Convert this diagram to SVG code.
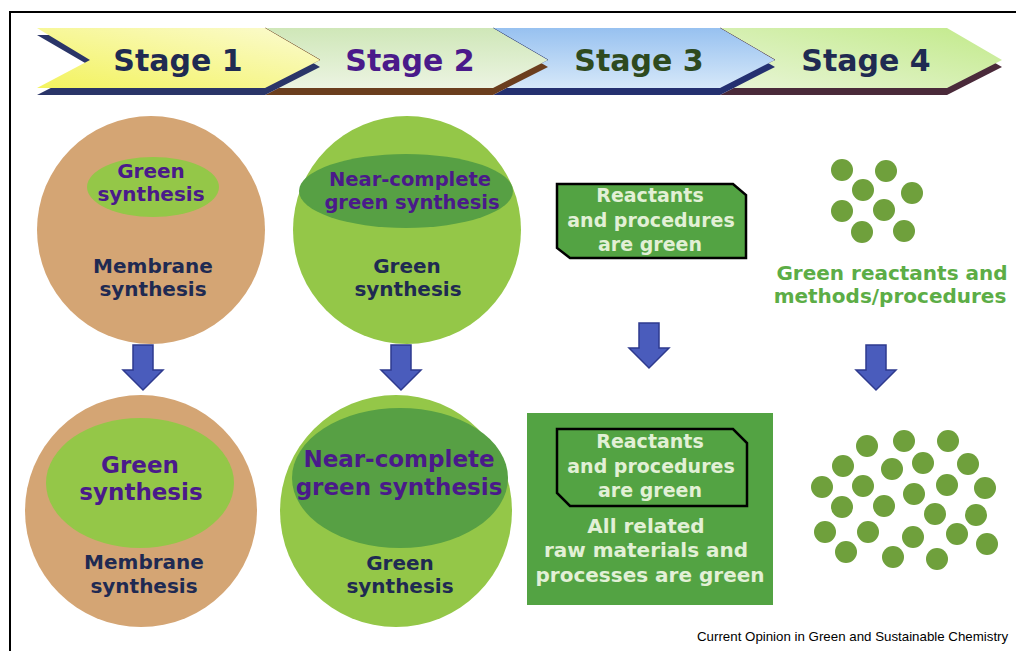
<svg xmlns="http://www.w3.org/2000/svg" width="1016" height="651" viewBox="0 0 1016 651">
<defs>
<linearGradient id="g1" x1="0" y1="1" x2="1" y2="0"><stop offset="0" stop-color="#f3f35e"/><stop offset="1" stop-color="#fbfbd2"/></linearGradient>
<linearGradient id="g2" x1="0" y1="0" x2="0" y2="1"><stop offset="0" stop-color="#cfe7b8"/><stop offset="1" stop-color="#ecf4e2"/></linearGradient>
<linearGradient id="g3" x1="0" y1="0" x2="0" y2="1"><stop offset="0" stop-color="#97c1f0"/><stop offset="1" stop-color="#d6e8f9"/></linearGradient>
<linearGradient id="g4" x1="1" y1="0" x2="0" y2="1"><stop offset="0" stop-color="#c2ea8a"/><stop offset="1" stop-color="#e8f5d6"/></linearGradient>
<polygon id="arrow" points="-10,0 10,0 10,25 20,25 0,45 -20,25 -10,25"/>
<circle id="dot" r="11"/>
</defs>
<style>
.frame{fill:none;stroke:#000;stroke-width:2}
.st{font-family:"DejaVu Sans",Verdana,sans-serif;font-weight:bold;font-size:30px;text-anchor:middle}
.t{font-family:"DejaVu Sans",Verdana,sans-serif;font-weight:bold;text-anchor:middle}
.purple{fill:#4a1a8a}
.navy{fill:#1f2a52}
.light{fill:#e2f0d6}
.tan{fill:#d4a574}
.lg{fill:#94c748}
.dg{fill:#57a044}
.arr{fill:#4a5cbc;stroke:#2e3a8e;stroke-width:1.5}
.dots{fill:#6fa03c}
.box{fill:#53a343;stroke:#000;stroke-width:2.5}
.cap{font-family:"Liberation Sans",Arial,sans-serif;font-size:13.3px;fill:#000}
</style>
<path class="frame" d="M10,651 V12 H1016"/>
<g id="stage4">
<polygon fill="#4a2a3a" points="720,35 947,35 1002,67 947,95 720,95 775,67"/>
<polygon fill="url(#g4)" points="720,28 947,28 1002,60 947,88 720,88 775,60"/>
<line x1="720" y1="28" x2="775" y2="60" stroke="#4a2a3a" stroke-width="1"/>
<text class="st navy" x="866" y="71">Stage 4</text>
</g>
<g id="stage3">
<polygon fill="#243070" points="493,35 720,35 775,67 720,95 493,95 548,67"/>
<polygon fill="url(#g3)" points="493,28 720,28 775,60 720,88 493,88 548,60"/>
<line x1="493" y1="28" x2="548" y2="60" stroke="#243070" stroke-width="1"/>
<text class="st" fill="#2e4a1e" x="639" y="71">Stage 3</text>
</g>
<g id="stage2">
<polygon fill="#6b3e1e" points="265,35 493,35 548,67 493,95 265,95 320,67"/>
<polygon fill="url(#g2)" points="265,28 493,28 548,60 493,88 265,88 320,60"/>
<line x1="265" y1="28" x2="320" y2="60" stroke="#6b3e1e" stroke-width="1"/>
<text class="st purple" x="410" y="71">Stage 2</text>
</g>
<g id="stage1">
<polygon fill="#2a3568" points="37,35 265,35 320,67 265,95 37,95 92,67"/>
<polygon fill="url(#g1)" points="37,28 265,28 320,60 265,88 37,88 90,60"/>
<text class="st navy" x="178" y="71">Stage 1</text>
</g>
<g id="s1-top">
<circle class="tan" cx="151" cy="230" r="114"/>
<ellipse class="lg" cx="153" cy="187" rx="66" ry="30"/>
<text class="t purple" font-size="20" x="151" y="178">Green</text>
<text class="t purple" font-size="20" x="151" y="201">synthesis</text>
<text class="t navy" font-size="20" x="153" y="273">Membrane</text>
<text class="t navy" font-size="20" x="153" y="296">synthesis</text>
</g>
<g id="s2-top">
<circle class="lg" cx="407" cy="230" r="114"/>
<ellipse class="dg" cx="406" cy="191" rx="107" ry="37"/>
<text class="t purple" font-size="19.5" x="410" y="186">Near-complete</text>
<text class="t purple" font-size="19.5" x="412" y="209">green synthesis</text>
<text class="t navy" font-size="20" x="407" y="273">Green</text>
<text class="t navy" font-size="20" x="408" y="296">synthesis</text>
</g>
<g id="s3-top">
<polygon class="box" points="557,184 733,184 746,195 746,258 570,258 557,248"/>
<text class="t light" font-size="19" x="650" y="202">Reactants</text>
<text class="t light" font-size="19" x="651" y="227">and procedures</text>
<text class="t light" font-size="19" x="650" y="251">are green</text>
</g>
<g id="s4-top">
<g class="dots">
<use href="#dot" x="842" y="170"/><use href="#dot" x="886" y="171"/><use href="#dot" x="863" y="190"/><use href="#dot" x="912" y="193"/>
<use href="#dot" x="842" y="211"/><use href="#dot" x="884" y="210"/><use href="#dot" x="862" y="232"/><use href="#dot" x="904" y="231"/>
</g>
<text class="t" fill="#5cad46" font-size="20" x="892" y="280">Green reactants and</text>
<text class="t" fill="#5cad46" font-size="20" x="890" y="303">methods/procedures</text>
</g>
<g id="connectors">
<use href="#arrow" class="arr" x="143" y="345"/>
<use href="#arrow" class="arr" x="401" y="345"/>
<use href="#arrow" class="arr" x="649" y="323"/>
<use href="#arrow" class="arr" x="876" y="345"/>
</g>
<g id="s1-bottom">
<circle class="tan" cx="141" cy="511" r="116"/>
<ellipse class="lg" cx="140" cy="483" rx="94" ry="65"/>
<text class="t purple" font-size="23" x="140" y="473">Green</text>
<text class="t purple" font-size="23" x="141" y="500">synthesis</text>
<text class="t navy" font-size="20" x="144" y="569">Membrane</text>
<text class="t navy" font-size="20" x="144" y="593">synthesis</text>
</g>
<g id="s2-bottom">
<circle class="lg" cx="396" cy="511" r="116"/>
<ellipse class="dg" cx="400" cy="478" rx="108" ry="70"/>
<text class="t purple" font-size="23" x="399" y="467">Near-complete</text>
<text class="t purple" font-size="23" x="399" y="495">green synthesis</text>
<text class="t navy" font-size="20" x="400" y="570">Green</text>
<text class="t navy" font-size="20" x="400" y="593">synthesis</text>
</g>
<g id="s3-bottom">
<rect x="527" y="413" width="246" height="192" fill="#53a343"/>
<polygon class="box" points="557,429 733,429 747,443 747,506 570,506 557,493"/>
<text class="t light" font-size="19" x="650" y="448">Reactants</text>
<text class="t light" font-size="19" x="651" y="473">and procedures</text>
<text class="t light" font-size="19" x="650" y="497">are green</text>
<text class="t light" font-size="20" x="646" y="533">All related</text>
<text class="t light" font-size="20" x="646" y="557">raw materials and</text>
<text class="t light" font-size="20" x="650" y="582">processes are green</text>
</g>
<g id="s4-bottom" class="dots">
<use href="#dot" x="867" y="446"/><use href="#dot" x="904" y="441"/><use href="#dot" x="948" y="441"/>
<use href="#dot" x="843" y="466"/><use href="#dot" x="892" y="469"/><use href="#dot" x="923" y="463"/><use href="#dot" x="968" y="464"/>
<use href="#dot" x="822" y="487"/><use href="#dot" x="863" y="486"/><use href="#dot" x="914" y="494"/><use href="#dot" x="947" y="485"/><use href="#dot" x="985" y="488"/>
<use href="#dot" x="842" y="507"/><use href="#dot" x="884" y="506"/><use href="#dot" x="935" y="514"/><use href="#dot" x="976" y="515"/>
<use href="#dot" x="825" y="532"/><use href="#dot" x="868" y="532"/><use href="#dot" x="913" y="537"/><use href="#dot" x="957" y="534"/><use href="#dot" x="987" y="544"/>
<use href="#dot" x="846" y="552"/><use href="#dot" x="893" y="557"/><use href="#dot" x="937" y="559"/>
</g>
<text class="cap" x="697" y="641">Current Opinion in Green and Sustainable Chemistry</text>
</svg>
